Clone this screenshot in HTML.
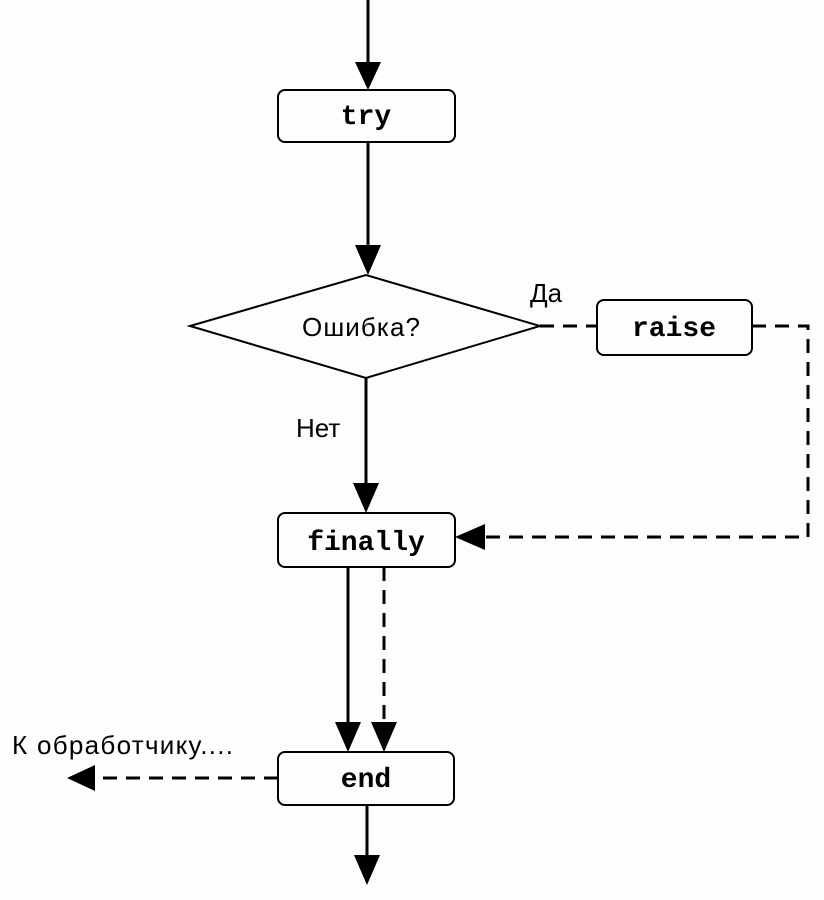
<!DOCTYPE html>
<html><head><meta charset="utf-8"><style>
html,body{margin:0;padding:0;background:#fdfdfd;}
svg{display:block}
.m{font-family:"Liberation Mono",monospace;font-weight:bold;font-size:28px}
.s{font-family:"Liberation Sans","DejaVu Sans",sans-serif;font-size:26px}
</style></head><body>
<svg width="824" height="900" viewBox="0 0 824 900">
<g stroke="#000" stroke-width="3" fill="none">
<line x1="368" y1="0" x2="368" y2="65"/>
<line x1="368" y1="142" x2="368" y2="248"/>
<line x1="366" y1="378" x2="366" y2="486"/>
<line x1="348" y1="567" x2="348" y2="725"/>
<line x1="384" y1="567" x2="384" y2="725" stroke-dasharray="14,9"/>
<line x1="367" y1="805" x2="367" y2="858"/>
<polyline points="540,326 597,326" stroke-dasharray="14,9"/>
<polyline points="752,326 808,326 808,537 485,537" stroke-dasharray="14,9"/>
<line x1="278" y1="778" x2="95" y2="778" stroke-dasharray="14,9"/>
<polygon points="190,326 366,275 540,326 366,378" stroke-width="2"/>
<rect x="278" y="90" width="177" height="52" rx="7" stroke-width="2"/>
<rect x="597" y="300" width="155" height="55" rx="7" stroke-width="2"/>
<rect x="278" y="513" width="177" height="54" rx="7" stroke-width="2"/>
<rect x="278" y="752" width="176" height="53" rx="7" stroke-width="2"/>
</g>
<g fill="#000">
<polygon points="355,62 381,62 368,90"/>
<polygon points="355,245 381,245 368,275"/>
<polygon points="353,483 379,483 366,513"/>
<polygon points="335,722 361,722 348,752"/>
<polygon points="371,722 397,722 384,752"/>
<polygon points="354,855 380,855 367,885"/>
<polygon points="485,524 485,550 455,537"/>
<polygon points="95,765 95,791 67,778"/>
</g>
<text class="m" x="366" y="124" text-anchor="middle">try</text>
<text class="m" x="674" y="336" text-anchor="middle">raise</text>
<text class="m" x="366" y="550" text-anchor="middle">finally</text>
<text class="m" x="366" y="787" text-anchor="middle">end</text>
<text class="s" x="361" y="336" text-anchor="middle" textLength="118">Ошибка?</text>
<text class="s" x="530" y="302">Да</text>
<text class="s" x="296" y="437">Нет</text>
<text class="s" x="12" y="754" textLength="221">К обработчику....</text>
</svg>
</body></html>
